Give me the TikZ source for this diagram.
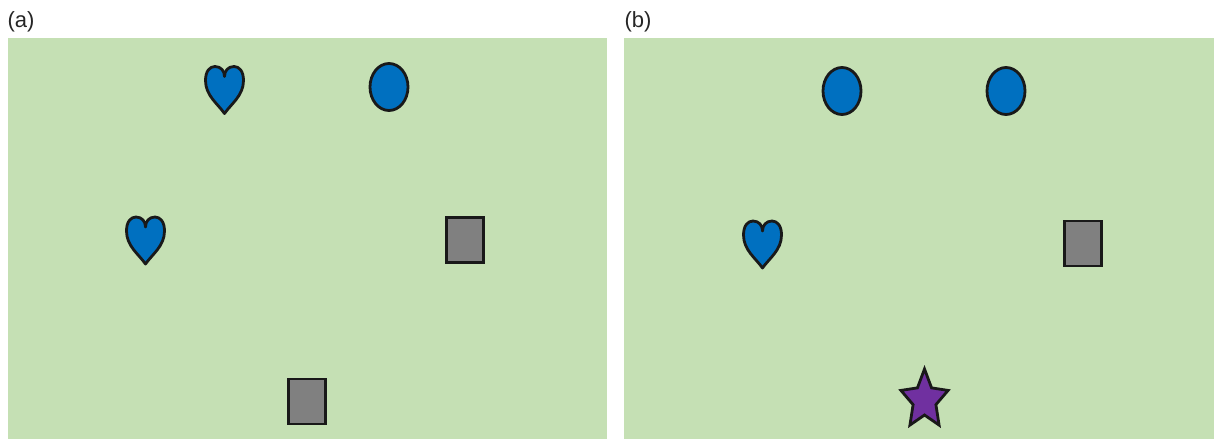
\documentclass[tikz,border=0pt]{standalone}
\usepackage{fontspec}
\setmainfont{Liberation Sans}
\usetikzlibrary{shapes.geometric}
\definecolor{bggreen}{RGB}{197,224,180}
\definecolor{figblue}{RGB}{0,112,192}
\definecolor{figgray}{RGB}{128,128,128}
\definecolor{figpurple}{RGB}{112,48,160}
\begin{document}
\begin{tikzpicture}[
    x=1pt,
    y=-1pt,
    panel/.style={
        fill=bggreen,
        draw=none
    },
    tag/.style={
        font=\fontsize{22}{26}\selectfont,
        text=black!85,
        inner sep=0pt
    },
    oval/.style={
        ellipse,
        draw=black!90,
        line width=2.8pt,
        fill=figblue,
        minimum width=38pt,
        minimum height=47pt,
        inner sep=0pt
    },
    block/.style={
        rectangle,
        draw=black!90,
        line width=2.8pt,
        fill=figgray,
        minimum width=37pt,
        minimum height=45pt,
        inner sep=0pt
    },
    heartfig/.style={
        draw=black!90,
        line width=2.8pt,
        fill=figblue,
        line join=round
    },
    starfig/.style={
        draw=black!90,
        line width=2.8pt,
        fill=figpurple,
        line join=miter
    },
    heart/.pic={
        \path[heartfig] (0,24) .. controls (-7,14) and (-19,6) .. (-19,-9)
            .. controls (-19,-18) and (-15,-23) .. (-9.5,-23)
            .. controls (-3.5,-23) and (0,-18.5) .. (0,-13)
            .. controls (0,-18.5) and (3.5,-23) .. (9.5,-23)
            .. controls (15,-23) and (19,-18) .. (19,-9)
            .. controls (19,6) and (7,14) .. (0,24) -- cycle;
    }
]
    \useasboundingbox (0,0) rectangle (1214,439);

    % Panels
    \fill[panel] (8,38) rectangle (607,439);
    \fill[panel] (624,38) rectangle (1214,439);
    \node[tag] (taga) at (21,22) {(a)};
    \node[tag] (tagb) at (638,22) {(b)};

    % Panel (a)
    \pic (hearta1) at (224.5,89.5) {heart};
    \node[oval] (ovala) at (389,87) {};
    \pic (hearta2) at (145.5,240) {heart};
    \node[block] (blocka1) at (465,240) {};
    \node[block] (blocka2) at (307,401.5) {};

    % Panel (b)
    \node[oval] (ovalb1) at (842,91) {};
    \node[oval] (ovalb2) at (1006,91) {};
    \pic (heartb) at (762.5,244) {heart};
    \node[block] (blockb) at (1083,243.5) {};
    \draw[starfig, shift={(924.5,400)}, xscale=0.8]
        (-90:31) -- (-54:15) -- (-18:31) -- (18:15) -- (54:31)
        -- (90:15) -- (126:31) -- (162:15) -- (198:31) -- (234:15) -- cycle;

\end{tikzpicture}
\end{document}
